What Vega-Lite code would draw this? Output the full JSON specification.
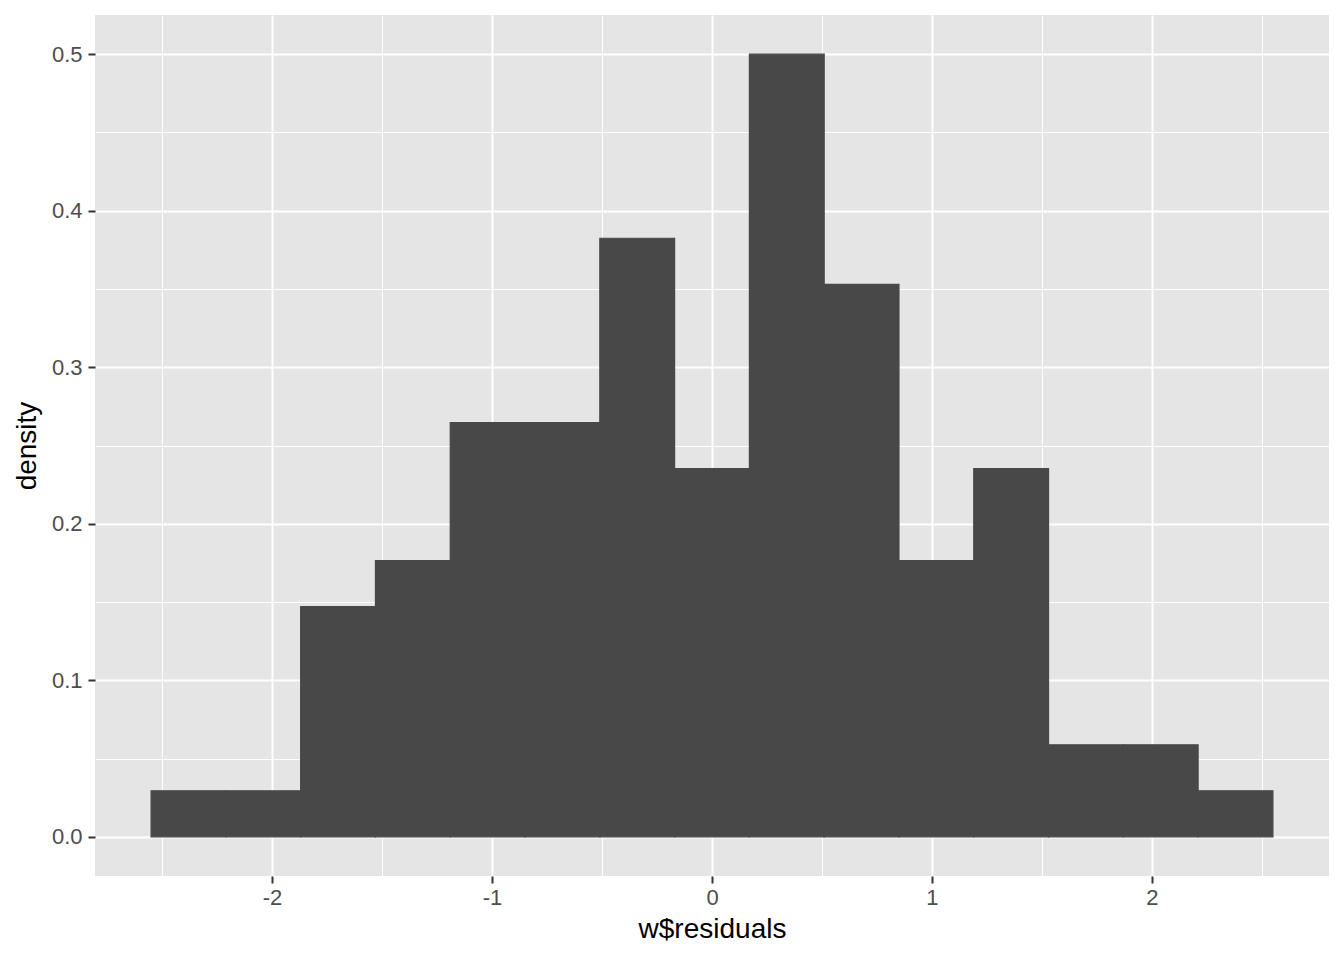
{
  "$schema": "https://vega.github.io/schema/vega-lite/v6.json",
  "width": 1234,
  "height": 861,
  "autosize": {"type": "none"},
  "padding": {"left": 95, "top": 15, "right": 15, "bottom": 84},
  "background": "white",
  "config": {
    "view": {"fill": "#E5E5E5", "stroke": null},
    "font": "Liberation Sans",
    "axis": {
      "domain": false,
      "grid": true,
      "gridColor": "white",
      "labelFont": "Liberation Sans",
      "labelFontSize": 22,
      "labelColor": "#4D4D4D",
      "titleFont": "Liberation Sans",
      "titleFontSize": 28,
      "titleFontWeight": "normal",
      "titleColor": "black",
      "tickSize": 7,
      "tickWidth": 2,
      "labelOverlap": false,
      "labelFlush": false
    }
  },
  "data": {
    "values": [
      {"lo": -2.55, "hi": -2.21, "density": 0.0294},
      {"lo": -2.21, "hi": -1.87, "density": 0.0294},
      {"lo": -1.87, "hi": -1.53, "density": 0.1471},
      {"lo": -1.53, "hi": -1.19, "density": 0.1765},
      {"lo": -1.19, "hi": -0.85, "density": 0.2647},
      {"lo": -0.85, "hi": -0.51, "density": 0.2647},
      {"lo": -0.51, "hi": -0.17, "density": 0.3824},
      {"lo": -0.17, "hi": 0.17, "density": 0.2353},
      {"lo": 0.17, "hi": 0.51, "density": 0.5},
      {"lo": 0.51, "hi": 0.85, "density": 0.3529},
      {"lo": 0.85, "hi": 1.19, "density": 0.1765},
      {"lo": 1.19, "hi": 1.53, "density": 0.2353},
      {"lo": 1.53, "hi": 1.87, "density": 0.0588},
      {"lo": 1.87, "hi": 2.21, "density": 0.0588},
      {"lo": 2.21, "hi": 2.55, "density": 0.0294}
    ]
  },
  "mark": {"type": "bar", "color": "#484848", "stroke": "#484848", "strokeWidth": 1.2},
  "encoding": {
    "x": {
      "field": "lo",
      "type": "quantitative",
      "title": "w$residuals",
      "scale": {"domain": [-2.805, 2.805], "nice": false, "zero": false},
      "axis": {
        "values": [-2.5, -2, -1.5, -1, -0.5, 0, 0.5, 1, 1.5, 2, 2.5],
        "labelExpr": "abs(datum.value - round(datum.value)) < 0.001 ? toString(round(datum.value)) : ''",
        "gridWidth": {"condition": {"test": "abs(datum.value - round(datum.value)) < 0.001", "value": 2}, "value": 1},
        "tickColor": {"condition": {"test": "abs(datum.value - round(datum.value)) < 0.001", "value": "#333333"}, "value": "transparent"},
        "labelPadding": 4,
        "titlePadding": 7
      }
    },
    "x2": {"field": "hi"},
    "y": {
      "field": "density",
      "type": "quantitative",
      "title": "density",
      "scale": {"domain": [-0.025, 0.525], "nice": false, "zero": false},
      "axis": {
        "values": [0, 0.05, 0.1, 0.15, 0.2, 0.25, 0.3, 0.35, 0.4, 0.45, 0.5],
        "labelExpr": "abs(datum.value * 10 - round(datum.value * 10)) < 0.001 ? format(datum.value, '.1f') : ''",
        "gridWidth": {"condition": {"test": "abs(datum.value * 10 - round(datum.value * 10)) < 0.001", "value": 2}, "value": 1},
        "tickColor": {"condition": {"test": "abs(datum.value * 10 - round(datum.value * 10)) < 0.001", "value": "#333333"}, "value": "transparent"},
        "labelPadding": 6,
        "titlePadding": 10
      }
    },
    "y2": {"datum": 0}
  }
}
